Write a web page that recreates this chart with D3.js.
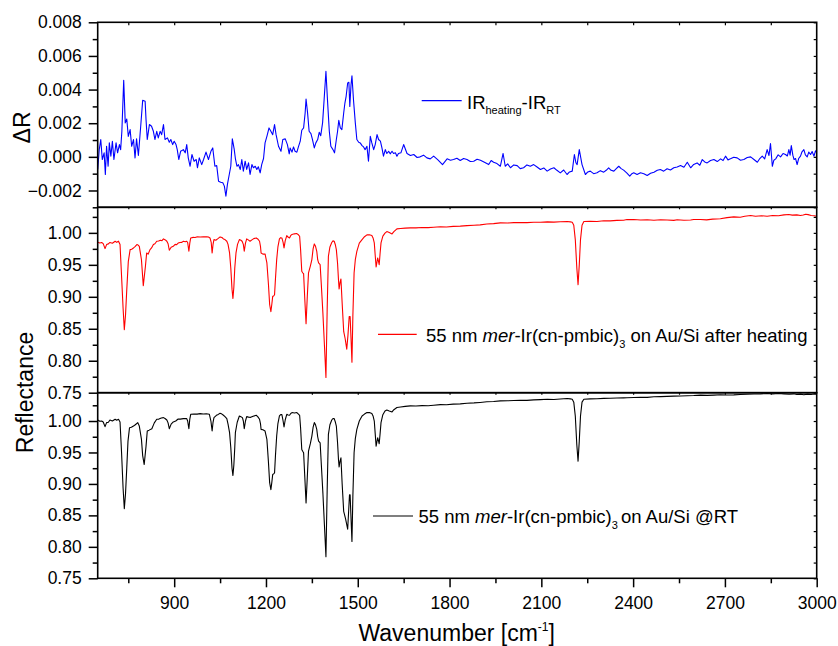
<!DOCTYPE html>
<html><head><meta charset="utf-8">
<script src="https://cdn.jsdelivr.net/npm/d3@7"></script>
<style>
body{margin:0;background:#fff}
svg{display:block}
text{font-family:"Liberation Sans",Arial,Helvetica,sans-serif;fill:#000}
</style>
</head><body>
<svg id="c" width="838" height="646"></svg>
<script>
// ---------------- DATA ----------------
const xMajorTicks = [900,1200,1500,1800,2100,2400,2700,3000];
const xMinorTicks = [750,1050,1350,1650,1950,2250,2550,2850];
const dRMajorTicks = [-0.002,0,0.002,0.004,0.006,0.008];
const dRMinorTicks = [-0.003,-0.001,0.001,0.003,0.005,0.007];
const reflMajorTicks = [0.75,0.80,0.85,0.90,0.95,1.00];
const reflMinorTicks = [0.775,0.825,0.875,0.925,0.975,1.025];

// IR_heating - IR_RT  [wavenumber, deltaR]
const deltaR = [[650,-0.00075],[655,0.00043],[660,0.00103],[665,-0.00016],[671,0.00024],[675,-0.00105],[679,0.00063],[684,-0.00056],[688,0.00083],[693,0.00004],[698,0.00093],[703,-0.00016],[710,0.00083],[715,0.00024],[721,0.00073],[725,0.00043],[729,0.00152],[735,0.00455],[740,0.00202],[745,0.00225],[750,0.00122],[756,0.00162],[761,0.00063],[767,0.00103],[772,-0.00006],[777,0.00107],[783,0.00008],[791,0.00192],[797,0.00336],[805,0.0033],[808,0.00221],[812,0.00103],[819,0.00192],[826,0.00182],[832,0.00152],[837,0.00103],[843,0.00152],[848,0.00113],[854,0.00152],[859,0.00132],[865,0.00192],[870,0.00103],[878,0.00113],[884,0.00087],[889,0.00103],[895,0.00073],[900,0.00093],[906,0.00073],[910,0.00043],[915,-0.00016],[921,0.00033],[930,0.00043],[936,0.00024],[941,0.00073],[946,-0.00006],[952,-0.00056],[958,0.00014],[965,-0.00026],[972,-0.00016],[976,-0.00065],[982,-0.00006],[990,-0.00046],[996,-0.00016],[1004,0.00028],[1012,-0.00016],[1020,0.00033],[1026,0.00053],[1033,-0.00056],[1039,-0.00052],[1045,-0.00145],[1052,-0.00151],[1059,-0.00154],[1064,-0.00174],[1069,-0.00234],[1074,-0.00164],[1080,-0.00105],[1085,-0.00056],[1090,0.00107],[1096,0.00047],[1100,-0.0001],[1105,-0.00056],[1110,-0.00046],[1116,-0.00075],[1121,-0.00016],[1126,-0.00085],[1132,-0.00026],[1137,-0.00075],[1143,-0.00036],[1148,-0.00105],[1154,-0.00046],[1159,-0.00065],[1165,-0.00056],[1170,-0.00075],[1175,-0.00059],[1181,-0.00095],[1186,-0.00046],[1192,-0.0001],[1197,0.00083],[1203,0.00122],[1210,0.00172],[1216,0.00152],[1222,0.00132],[1228,0.00192],[1233,0.00132],[1241,0.00063],[1249,0.00033],[1255,0.00103],[1263,0.00107],[1270,0.00073],[1276,0.00018],[1279,0.00053],[1285,0.00028],[1290,0.00059],[1295,0.00033],[1301,0.00028],[1306,0.00059],[1312,0.00093],[1317,0.00158],[1323,0.00172],[1328,0.00261],[1331,0.00344],[1336,0.00261],[1341,0.00152],[1347,0.00138],[1352,0.00103],[1358,0.00053],[1363,0.00083],[1369,0.00103],[1374,0.00146],[1379,0.00126],[1385,0.00202],[1390,0.0034],[1396,0.00508],[1401,0.0034],[1407,0.00152],[1412,0.00063],[1419,0.00043],[1424,0.00024],[1430,0.00103],[1434,0.00152],[1438,0.00217],[1443,0.00172],[1448,0.00162],[1454,0.00261],[1458,0.0032],[1462,0.0036],[1467,0.00439],[1471,0.00443],[1474,0.003],[1478,0.00429],[1481,0.00482],[1486,0.0034],[1492,0.00202],[1497,0.00103],[1503,0.00087],[1508,0.00083],[1514,0.00067],[1519,0.00059],[1524,0.00043],[1530,0.00063],[1535,-0.00026],[1541,0.00122],[1546,0.00083],[1552,0.00043],[1557,0.00073],[1563,0.00132],[1568,0.00103],[1574,0.00093],[1579,0.00053],[1584,0.00004],[1590,0.00043],[1595,0.0002],[1601,0.00033],[1606,0.00018],[1612,0.00033],[1617,0.0002],[1623,0.00024],[1628,0.00004],[1633,0.0002],[1641,0.00024],[1650,0.00073],[1661,0.0002],[1672,0.00008],[1683,0.00014],[1694,-0.00004],[1704,0],[1715,0.0001],[1726,-0.00006],[1737,-0.00012],[1748,0.00004],[1762,-0.00018],[1777,-0.00046],[1792,-0.00012],[1803,-0.0002],[1813,-0.00016],[1824,-0.00008],[1835,-0.00022],[1846,-0.0001],[1857,-0.00016],[1868,-0.00028],[1879,-0.00026],[1890,-0.00014],[1901,-0.0002],[1914,-0.00032],[1928,-0.00046],[1936,-0.00022],[1944,-0.00032],[1955,-0.0004],[1966,-0.00056],[1975,0.0002],[1982,-0.00056],[1990,-0.00042],[1999,-0.00065],[2010,-0.00048],[2021,-0.00052],[2031,-0.0007],[2042,-0.00065],[2053,-0.00048],[2064,-0.00056],[2075,-0.00046],[2086,-0.0006],[2097,-0.00075],[2108,-0.00066],[2119,-0.00085],[2130,-0.00072],[2141,-0.00065],[2151,-0.0008],[2162,-0.00095],[2173,-0.00078],[2184,-0.00105],[2192,-0.0009],[2201,-0.00085],[2208,0.00014],[2213,-0.00035],[2217,-0.00046],[2224,0.00043],[2233,-0.00046],[2244,-0.00105],[2252,-0.0009],[2260,-0.00085],[2271,-0.001],[2282,-0.00095],[2293,-0.00082],[2304,-0.00091],[2312,-0.0008],[2320,-0.00065],[2328,-0.0008],[2337,-0.00085],[2345,-0.0007],[2353,-0.00056],[2361,-0.0007],[2369,-0.00079],[2379,-0.00095],[2389,-0.00115],[2396,-0.001],[2402,-0.00095],[2413,-0.00105],[2424,-0.00095],[2435,-0.001],[2446,-0.00111],[2457,-0.00098],[2468,-0.00091],[2479,-0.0008],[2489,-0.00075],[2500,-0.00085],[2511,-0.00071],[2522,-0.00078],[2533,-0.00065],[2544,-0.0006],[2555,-0.00052],[2566,-0.00062],[2577,-0.00032],[2588,-0.00065],[2598,-0.00045],[2609,-0.00036],[2618,-0.0005],[2626,-0.00016],[2634,-0.0003],[2642,-0.00036],[2653,-0.00022],[2664,-0.00016],[2675,-0.00028],[2686,-0.00012],[2694,-0.00022],[2702,0.00004],[2710,-0.00018],[2718,-0.00012],[2729,-0.00002],[2740,-0.00006],[2751,-0.0002],[2762,-0.00016],[2773,-0.00004],[2784,0],[2795,-0.00016],[2806,-0.00032],[2814,-0.0001],[2822,0.00004],[2830,-0.00012],[2838,0.00043],[2844,0.00008],[2849,0.00079],[2855,-0.00056],[2860,-0.0002],[2866,-0.00012],[2874,0.00012],[2882,0],[2890,0.0002],[2898,0.00014],[2904,0.00005],[2909,0.00043],[2913,0.0001],[2917,0.00067],[2922,0.0001],[2926,-0.00016],[2931,-0.0001],[2936,-0.00046],[2941,-0.0001],[2947,0.00004],[2952,0.0003],[2958,0.00043],[2963,0.00012],[2969,0],[2974,0.00028],[2980,0.00014],[2985,0.00032],[2991,0.00004],[2996,0.00036],[3000,0.00024]];

// 55 nm mer-Ir(cn-pmbic)3 on Au/Si after heating  [wavenumber, reflectance]
const reflHeated = [[650,0.9853],[657,0.9842],[663,0.985],[668,0.9832],[674,0.9754],[679,0.9817],[685,0.9828],[690,0.985],[698,0.9838],[707,0.9869],[712,0.9852],[718,0.987],[723,0.9817],[728,0.932],[733,0.882],[737,0.8484],[741,0.872],[745,0.911],[750,0.955],[756,0.9738],[761,0.9745],[767,0.9764],[772,0.9785],[778,0.9817],[782,0.981],[786,0.979],[793,0.958],[799,0.9174],[806,0.9477],[810,0.9686],[815,0.9668],[821,0.9738],[826,0.9765],[832,0.9817],[837,0.983],[843,0.9869],[849,0.9872],[855,0.9885],[860,0.9878],[865,0.9906],[871,0.989],[876,0.9869],[880,0.983],[884,0.9728],[890,0.9775],[897,0.979],[903,0.982],[908,0.9815],[913,0.984],[919,0.985],[925,0.9852],[930,0.9868],[936,0.986],[941,0.9869],[944,0.985],[948,0.9712],[951,0.984],[954,0.9921],[962,0.993],[968,0.9928],[974,0.9937],[985,0.9935],[995,0.9938],[1007,0.9937],[1012,0.9935],[1017,0.9921],[1021,0.985],[1024,0.9686],[1027,0.982],[1030,0.9895],[1036,0.9885],[1043,0.991],[1050,0.9937],[1056,0.9928],[1061,0.9906],[1066,0.9895],[1072,0.9869],[1076,0.982],[1081,0.9686],[1085,0.945],[1089,0.912],[1092,0.8975],[1095,0.915],[1098,0.945],[1102,0.9686],[1107,0.982],[1113,0.9895],[1118,0.9885],[1122,0.9869],[1126,0.982],[1129,0.9712],[1133,0.984],[1137,0.9906],[1142,0.989],[1148,0.9869],[1154,0.989],[1160,0.991],[1168,0.9921],[1173,0.9905],[1179,0.9869],[1182,0.979],[1184,0.9686],[1190,0.9668],[1197,0.967],[1203,0.953],[1208,0.92],[1212,0.888],[1216,0.8766],[1219,0.888],[1222,0.9007],[1225,0.9012],[1228,0.9033],[1231,0.928],[1235,0.9582],[1239,0.978],[1244,0.9906],[1248,0.9925],[1252,0.9921],[1256,0.985],[1259,0.9764],[1263,0.988],[1268,0.9958],[1272,0.9935],[1277,0.9921],[1281,0.996],[1285,0.9974],[1293,0.9985],[1301,0.9989],[1306,0.997],[1310,0.9947],[1313,0.975],[1317,0.9399],[1320,0.9375],[1323,0.9362],[1327,0.895],[1331,0.8578],[1335,0.9],[1339,0.9373],[1345,0.948],[1350,0.9582],[1354,0.975],[1358,0.9827],[1362,0.979],[1366,0.9712],[1369,0.958],[1372,0.953],[1377,0.9503],[1381,0.918],[1386,0.8746],[1391,0.825],[1396,0.7737],[1400,0.88],[1404,0.9634],[1409,0.978],[1415,0.985],[1419,0.9875],[1423,0.9869],[1427,0.981],[1430,0.9738],[1434,0.952],[1437,0.9268],[1439,0.9122],[1442,0.922],[1445,0.9279],[1449,0.89],[1454,0.8458],[1459,0.834],[1464,0.8181],[1468,0.84],[1472,0.8693],[1475,0.8693],[1478,0.835],[1481,0.7978],[1484,0.87],[1488,0.9373],[1492,0.958],[1497,0.9712],[1505,0.984],[1514,0.9895],[1522,0.994],[1530,0.9969],[1538,0.997],[1546,0.9958],[1550,0.992],[1554,0.9843],[1557,0.965],[1560,0.9467],[1563,0.955],[1565,0.9608],[1568,0.955],[1570,0.9503],[1573,0.968],[1576,0.9843],[1582,0.995],[1589,0.9995],[1595,1.002],[1603,1.0005],[1612,0.9984],[1618,1.002],[1628,1.0063],[1640,1.0068],[1655,1.0075],[1672,1.0078],[1690,1.0078],[1710,1.0085],[1730,1.0082],[1748,1.0088],[1770,1.0095],[1790,1.0092],[1812,1.0102],[1835,1.0105],[1857,1.0114],[1880,1.012],[1900,1.0125],[1922,1.0138],[1944,1.0145],[1966,1.0157],[1990,1.0155],[2010,1.016],[2031,1.0162],[2053,1.016],[2075,1.0167],[2097,1.0165],[2120,1.0172],[2141,1.0168],[2162,1.0174],[2184,1.0177],[2195,1.0172],[2201,1.0167],[2206,1.012],[2211,0.9895],[2216,0.945],[2220,0.919],[2224,0.95],[2228,0.9895],[2233,1.012],[2239,1.0177],[2260,1.018],[2282,1.0178],[2304,1.019],[2325,1.0188],[2347,1.0195],[2369,1.0197],[2380,1.0208],[2402,1.0208],[2424,1.0202],[2446,1.0205],[2468,1.0198],[2490,1.0206],[2511,1.0201],[2533,1.0196],[2544,1.0205],[2566,1.0198],[2588,1.0202],[2598,1.021],[2620,1.0208],[2640,1.0204],[2660,1.0215],[2685,1.0222],[2707,1.0238],[2729,1.025],[2750,1.0245],[2765,1.026],[2784,1.0271],[2800,1.026],[2820,1.0268],[2838,1.026],[2856,1.0272],[2875,1.0268],[2893,1.0282],[2909,1.0287],[2920,1.0278],[2935,1.0282],[2947,1.0271],[2956,1.0279],[2964,1.0292],[2972,1.0285],[2982,1.0272],[2992,1.0268],[3000,1.026]];

// 55 nm mer-Ir(cn-pmbic)3 on Au/Si @RT  [wavenumber, reflectance]
const reflRT = [[650,1.0016],[657,0.9995],[663,1.0],[668,0.9985],[674,0.991],[679,0.9974],[685,0.998],[690,1.0016],[698,1.0],[707,1.0027],[712,1.0012],[718,1.0027],[723,0.9985],[728,0.9495],[733,0.893],[737,0.8605],[741,0.885],[745,0.9255],[749,0.968],[754,0.9894],[760,0.99],[767,0.992],[773,0.994],[781,0.9974],[786,0.992],[793,0.9708],[797,0.945],[802,0.9308],[808,0.9601],[812,0.9841],[818,0.9855],[827,0.9878],[835,0.997],[843,1.0027],[850,1.003],[858,1.0048],[865,1.0054],[870,1.004],[876,1.0016],[880,0.997],[884,0.9878],[890,0.995],[897,0.9985],[905,1.0],[913,1.0032],[920,1.003],[930,1.0038],[941,1.0038],[944,1.0],[948,0.9878],[951,1.003],[954,1.0107],[965,1.0112],[975,1.011],[985,1.0118],[995,1.0112],[1005,1.0115],[1015,1.0107],[1020,1.0],[1024,0.9841],[1027,0.998],[1030,1.0054],[1038,1.009],[1044,1.0105],[1050,1.0123],[1056,1.011],[1061,1.0091],[1066,1.007],[1072,1.0038],[1076,0.995],[1081,0.9814],[1085,0.958],[1089,0.925],[1092,0.9133],[1095,0.93],[1098,0.958],[1100,0.9814],[1106,0.998],[1113,1.008],[1118,1.0068],[1123,1.0054],[1126,1.0],[1129,0.9878],[1133,1.0],[1137,1.007],[1143,1.0062],[1150,1.0058],[1158,1.0075],[1168,1.0091],[1173,1.007],[1179,1.0027],[1182,0.996],[1184,0.9867],[1190,0.986],[1197,0.9841],[1203,0.9708],[1208,0.935],[1212,0.902],[1216,0.8909],[1219,0.902],[1222,0.9149],[1225,0.916],[1228,0.9175],[1231,0.945],[1235,0.9761],[1239,0.996],[1244,1.008],[1248,1.0102],[1252,1.0102],[1256,1.0],[1259,0.9905],[1263,1.002],[1268,1.0107],[1272,1.0095],[1277,1.0091],[1281,1.012],[1285,1.0134],[1293,1.0128],[1301,1.0134],[1306,1.011],[1310,1.0091],[1313,0.99],[1317,0.9548],[1320,0.952],[1323,0.9495],[1327,0.91],[1331,0.8696],[1335,0.91],[1339,0.9521],[1345,0.964],[1350,0.9761],[1354,0.99],[1358,0.9974],[1362,0.994],[1366,0.9867],[1369,0.975],[1372,0.9681],[1377,0.9654],[1381,0.93],[1386,0.8856],[1391,0.835],[1396,0.7844],[1400,0.89],[1404,0.9787],[1409,0.994],[1415,1.0016],[1419,1.004],[1423,1.0038],[1427,0.998],[1430,0.992],[1434,0.965],[1437,0.9388],[1439,0.9271],[1442,0.936],[1445,0.9415],[1449,0.9],[1454,0.8563],[1460,0.845],[1467,0.8281],[1470,0.855],[1473,0.8829],[1475,0.8829],[1478,0.845],[1481,0.8084],[1484,0.88],[1488,0.9495],[1492,0.972],[1497,0.9867],[1505,1.0],[1514,1.008],[1522,1.011],[1530,1.0134],[1538,1.0135],[1546,1.0118],[1550,1.008],[1554,1.0],[1557,0.98],[1560,0.9601],[1563,0.968],[1565,0.9734],[1568,0.968],[1570,0.9638],[1573,0.98],[1576,0.9974],[1582,1.01],[1589,1.016],[1595,1.0176],[1603,1.016],[1612,1.0144],[1618,1.018],[1628,1.0214],[1640,1.0222],[1655,1.0232],[1672,1.024],[1690,1.0238],[1710,1.0245],[1730,1.0242],[1748,1.0251],[1770,1.026],[1790,1.0258],[1812,1.0268],[1835,1.0272],[1857,1.0283],[1880,1.0288],[1900,1.0295],[1922,1.0305],[1944,1.031],[1966,1.032],[1990,1.0322],[2010,1.0325],[2031,1.033],[2053,1.0328],[2075,1.0336],[2097,1.034],[2120,1.0345],[2141,1.0342],[2162,1.035],[2184,1.0358],[2195,1.0352],[2201,1.0347],[2206,1.03],[2211,1.008],[2216,0.962],[2220,0.9362],[2224,0.968],[2228,1.008],[2233,1.03],[2239,1.0347],[2260,1.0352],[2282,1.0355],[2304,1.036],[2325,1.0362],[2347,1.0365],[2369,1.0368],[2380,1.037],[2402,1.0373],[2424,1.0378],[2446,1.0376],[2468,1.0385],[2490,1.0388],[2511,1.0392],[2533,1.0395],[2555,1.0398],[2577,1.0402],[2598,1.0405],[2620,1.0411],[2642,1.0408],[2664,1.0412],[2685,1.0418],[2707,1.0414],[2729,1.0416],[2750,1.0422],[2773,1.0425],[2795,1.043],[2816,1.0432],[2838,1.0437],[2856,1.0432],[2875,1.0438],[2893,1.0432],[2910,1.0425],[2925,1.0432],[2935,1.0422],[2947,1.0427],[2958,1.0418],[2970,1.0428],[2982,1.0422],[2992,1.043],[3000,1.0427]];

// ---------------- DRAWING ----------------
const svg = d3.select("#c");
const X0 = 97.7, X1 = 816.7;
const x = d3.scaleLinear().domain([650, 3000]).range([X0, X1]);

const panels = [
  {data: deltaR, color: "#0000ff", y: d3.scaleLinear().domain([-0.003, 0.008]).range([207.3, 22.3]),
   major: dRMajorTicks, minor: dRMinorTicks, fmt: d3.format(".3f")},
  {data: reflHeated, color: "#ff0000", y: d3.scaleLinear().domain([0.75, 1.04]).range([392.7, 207.3]),
   major: reflMajorTicks, minor: reflMinorTicks, fmt: d3.format(".2f")},
  {data: reflRT, color: "#000000", y: d3.scaleLinear().domain([0.75, 1.045]).range([578.3, 392.7]),
   major: reflMajorTicks, minor: reflMinorTicks, fmt: d3.format(".2f")}
];

const FS_TICK = 17.5;

panels.forEach((p, i) => {
  const [yb, yt] = p.y.range();
  // data line
  svg.append("path")
    .datum(p.data)
    .attr("fill", "none")
    .attr("stroke", p.color)
    .attr("stroke-width", 1.1)
    .attr("stroke-linejoin", "round")
    .attr("d", d3.line().x(d => x(d[0])).y(d => p.y(d[1])));

  // left axis major
  const gl = svg.append("g").attr("transform", `translate(${X0},0)`)
    .call(d3.axisLeft(p.y).tickValues(p.major).tickSize(9).tickPadding(7).tickFormat(p.fmt));
  gl.select(".domain").remove();
  gl.selectAll("line").attr("stroke-width", 1.5);
  gl.selectAll("text").attr("font-family", null).attr("font-size", FS_TICK);
  gl.attr("font-family", null).attr("font-size", null);
  // left axis minor
  const glm = svg.append("g").attr("transform", `translate(${X0},0)`)
    .call(d3.axisLeft(p.y).tickValues(p.minor).tickSize(5).tickFormat(""));
  glm.select(".domain").remove();
  glm.selectAll("line").attr("stroke-width", 1.5);

  // right axis: inward ticks at all positions
  const gr = svg.append("g").attr("transform", `translate(${X1},0)`)
    .call(d3.axisLeft(p.y).tickValues(p.major.concat(p.minor)).tickSize(3).tickFormat(""));
  gr.select(".domain").remove();
  gr.selectAll("line").attr("stroke-width", 1.2);

  // bottom edge ticks of upper panels (small)
  if (i < 2) {
    const gb = svg.append("g").attr("transform", `translate(0,${yb})`)
      .call(d3.axisBottom(x).tickValues(xMajorTicks.concat(xMinorTicks).filter(v => v < 3000)).tickSize(2).tickFormat(""));
    gb.select(".domain").remove();
    gb.selectAll("line").attr("stroke-width", 1.2);
  }

  // frame
  svg.append("rect")
    .attr("x", X0).attr("y", yt)
    .attr("width", X1 - X0).attr("height", yb - yt)
    .attr("fill", "none").attr("stroke", "#000").attr("stroke-width", 1.6);
});

// top edge ticks (inward)
const gtop = svg.append("g").attr("transform", `translate(0,${panels[0].y.range()[1]})`)
  .call(d3.axisBottom(x).tickValues(xMajorTicks.concat(xMinorTicks).filter(v => v < 3000)).tickSize(3).tickFormat(""));
gtop.select(".domain").remove();
gtop.selectAll("line").attr("stroke-width", 1.2);

// bottom x axis
const yBottom = panels[2].y.range()[0];
const gx = svg.append("g").attr("transform", `translate(0,${yBottom})`)
  .call(d3.axisBottom(x).tickValues(xMajorTicks).tickSize(9).tickPadding(9.5).tickFormat(d3.format("d")));
gx.select(".domain").remove();
gx.selectAll("line").attr("stroke-width", 1.5);
gx.selectAll("text").attr("font-family", null).attr("font-size", FS_TICK);
gx.attr("font-family", null).attr("font-size", null);
const gxm = svg.append("g").attr("transform", `translate(0,${yBottom})`)
  .call(d3.axisBottom(x).tickValues(xMinorTicks).tickSize(5).tickFormat(""));
gxm.select(".domain").remove();
gxm.selectAll("line").attr("stroke-width", 1.5);

// axis titles
const xt = svg.append("text").attr("x", 456.7).attr("y", 641).attr("text-anchor", "middle").attr("font-size", 23);
xt.append("tspan").text("Wavenumber [cm");
xt.append("tspan").attr("font-size", 12).attr("dy", -10).text("-1");
xt.append("tspan").attr("dy", 10).text("]");

svg.append("text").attr("transform", "translate(30,127.5) rotate(-90)")
  .attr("text-anchor", "middle").attr("font-size", 23).text("\u0394R");
svg.append("text").attr("transform", "translate(33,392.5) rotate(-90)")
  .attr("text-anchor", "middle").attr("font-size", 23).text("Reflectance");

// legends
function legLine(x1, x2, y, color) {
  svg.append("line").attr("x1", x1).attr("x2", x2).attr("y1", y).attr("y2", y)
    .attr("stroke", color).attr("stroke-width", 1.2);
}
legLine(421.7, 461.7, 100.7, "#0000ff");
const l1 = svg.append("text").attr("x", 467).attr("y", 109).attr("font-size", 18.5);
l1.append("tspan").text("IR");
l1.append("tspan").attr("font-size", 11).attr("dy", 5).text("heating");
l1.append("tspan").attr("dy", -5).text("-IR");
l1.append("tspan").attr("font-size", 11).attr("dy", 5).text("RT");

function sampleLegend(xl1, xl2, yl, color, tx, ty, tail, tailDx) {
  legLine(xl1, xl2, yl, color);
  const t = svg.append("text").attr("x", tx).attr("y", ty).attr("font-size", 18.5);
  t.append("tspan").text("55 nm ");
  t.append("tspan").attr("font-style", "italic").text("mer");
  t.append("tspan").text("-Ir(cn-pmbic)");
  t.append("tspan").attr("font-size", 11).attr("dy", 6).text("3");
  t.append("tspan").attr("dy", -6).attr("dx", tailDx).text(tail);
}
sampleLegend(378, 416.7, 334.3, "#ff0000", 426, 341.7, " on Au/Si after heating", 0);
sampleLegend(373, 413, 516, "#000000", 418.5, 523.3, "on Au/Si @RT", 3);
</script>
</body></html>
